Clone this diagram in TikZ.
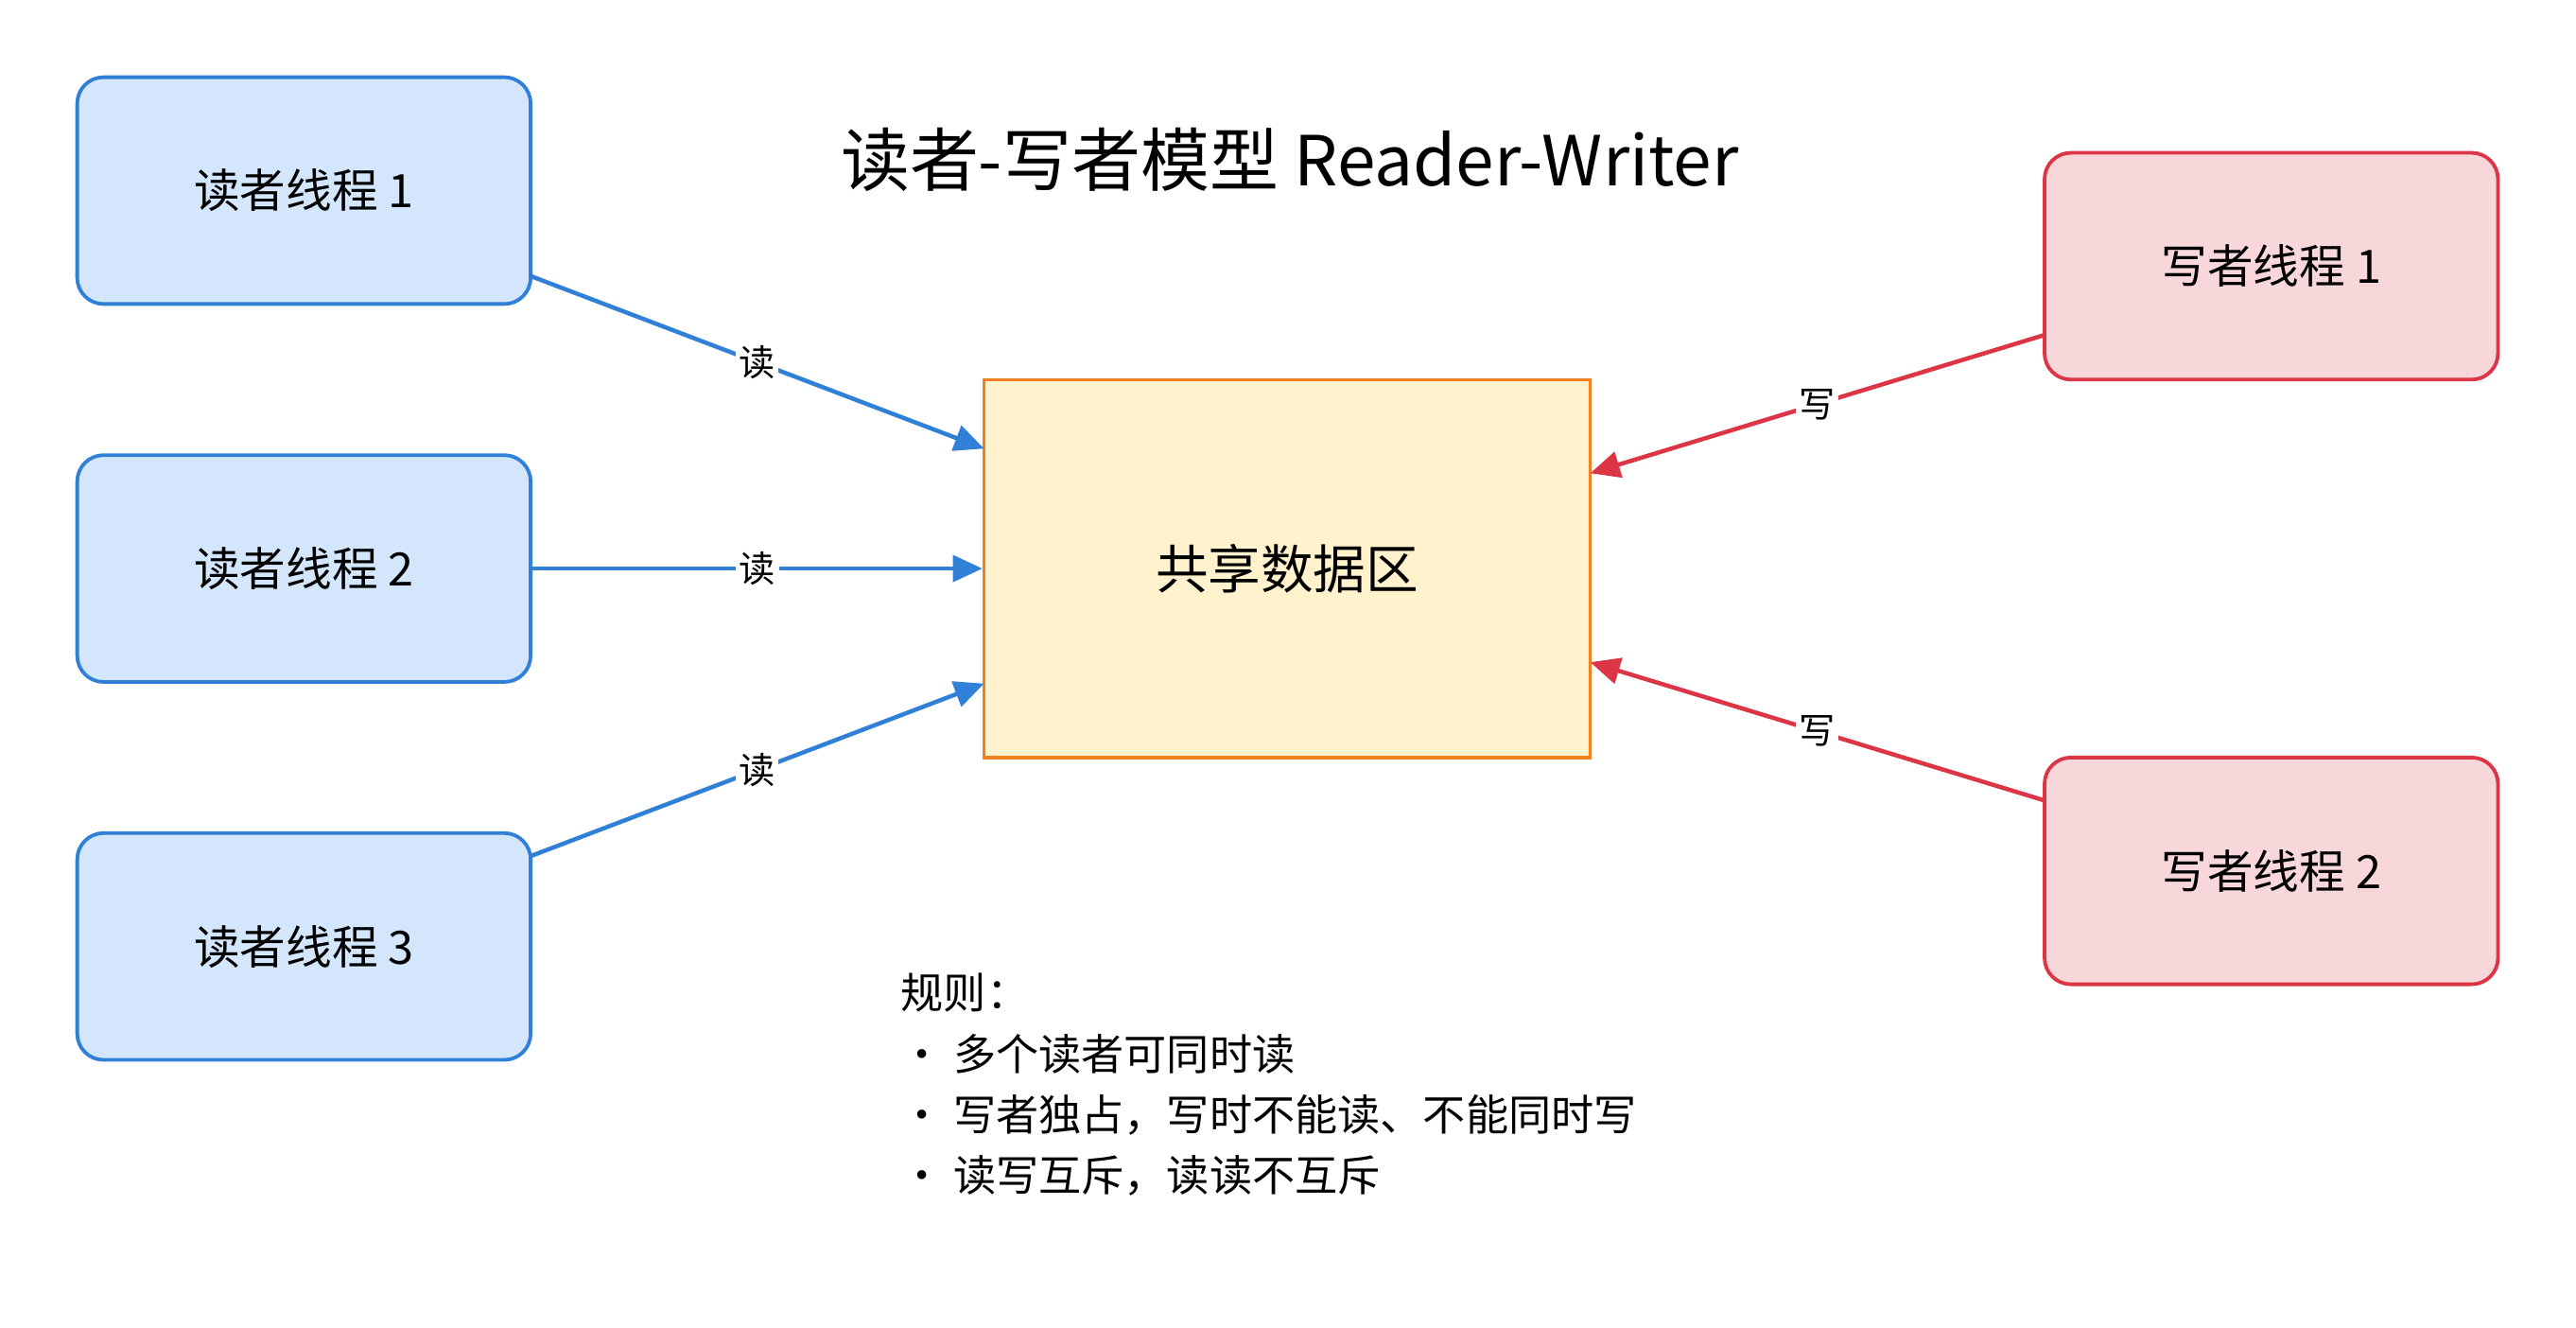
\documentclass[tikz,border=0pt]{standalone}
\usepackage{fontspec}
\setmainfont{Noto Sans CJK SC}
\usetikzlibrary{arrows.meta}
\definecolor{rfill}{HTML}{D4E6FC}\definecolor{rline}{HTML}{3080D8}
\definecolor{wfill}{HTML}{F8D7DA}\definecolor{wline}{HTML}{DC3545}
\definecolor{sfill}{HTML}{FFF2CC}\definecolor{sline}{HTML}{F08020}
\begin{document}
\begin{tikzpicture}[x=0.5pt,y=-0.5pt,
 box/.style={draw,line width=1.1pt,rounded corners=8pt,minimum width=138pt,minimum height=69pt,inner sep=0pt,font=\fontsize{14}{16}\selectfont},
 rd/.style={box,fill=rfill,draw=rline},
 wr/.style={box,fill=wfill,draw=wline},
 ra/.style={draw=rline,line width=1.3pt,-{Triangle[length=9pt,width=8pt]}},
 wa/.style={draw=wline,line width=1.3pt,-{Triangle[length=9pt,width=8pt]}},
 lb/.style={fill=white,inner sep=1pt,font=\fontsize{11}{13}\selectfont}]
\useasboundingbox (0,0) rectangle (1568,808);
\node[font=\fontsize{21}{24}\selectfont] (title) at (785,97) {读者-写者模型 Reader-Writer};
\node[rd] (r1) at (185,116) {读者线程 1};
\node[rd] (r2) at (185,346) {读者线程 2};
\node[rd] (r3) at (185,576) {读者线程 3};
\node[wr] (w1) at (1382.5,162) {写者线程 1};
\node[wr] (w2) at (1382.5,530) {写者线程 2};
\node[draw=sline,fill=sfill,line width=1pt,minimum width=184.5pt,minimum height=115pt,inner sep=0pt,font=\fontsize{16}{18}\selectfont] (s) at (783.5,346) {共享数据区};
\coordinate (a1) at (323,168);\coordinate (b1) at (599,273);
\coordinate (a3) at (323,521);\coordinate (b3) at (599,416);
\coordinate (c1) at (1244,204);\coordinate (d1) at (968,288);
\coordinate (c2) at (1244,487);\coordinate (d2) at (968,403);
\draw[ra] (a1) -- node[lb,pos=0.5]{读} (b1);
\draw[ra] (r2.east) -- node[lb,pos=0.5]{读} (s.west);
\draw[ra] (a3) -- node[lb,pos=0.5]{读} (b3);
\draw[wa] (c1) -- node[lb,pos=0.5]{写} (d1);
\draw[wa] (c2) -- node[lb,pos=0.5]{写} (d2);
\node[anchor=north west,align=left,inner sep=0pt,font=\fontsize{13}{18.5}\selectfont] (rules) at (548,592) {规则：\\ • 多个读者可同时读\\ • 写者独占，写时不能读、不能同时写\\ • 读写互斥，读读不互斥};
\end{tikzpicture}
\end{document}
